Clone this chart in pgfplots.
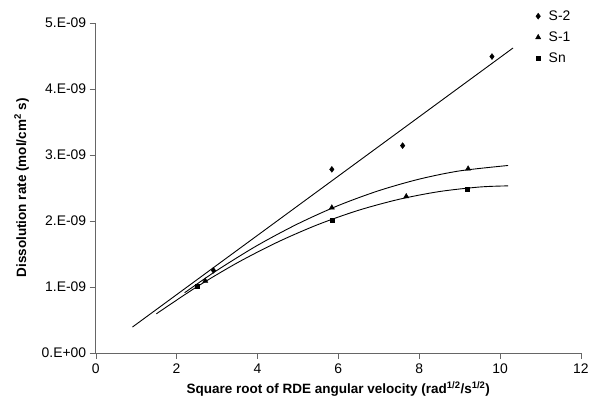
\documentclass[border=0pt]{standalone}
\usepackage{pgfplots}
\pgfplotsset{compat=1.18}
\usepackage{fontspec}
\setmainfont{Liberation Sans}
\begin{document}
\begin{tikzpicture}
\begin{axis}[
  at={(0,0)}, anchor=south west,
  scale only axis, width=487bp, height=331bp,
  xmin=0, xmax=12, ymin=0, ymax=5,
  axis x line=bottom, axis y line=left,
  axis line style={draw=black!60, -},
  xtick={0,2,...,12},
  ytick={0,1,2,3,4,5},
  yticklabels={0.E+00,1.E-09,2.E-09,3.E-09,4.E-09,5.E-09},
  tick align=outside, tick style={draw=black!60, major tick length=6bp},
  ticklabel style={font=\fontsize{14}{16}\selectfont},
  xticklabel style={yshift=-2bp},
  /pgf/number format/assume math mode=true,
  xlabel={\textbf{Square root of RDE angular velocity (rad\textsuperscript{1/2}/s\textsuperscript{1/2})}},
  ylabel={\textbf{Dissolution rate (mol/cm\textsuperscript{2} s)}},
  label style={font=\fontsize{13.6}{15}\selectfont},
  xlabel style={yshift=-1bp},
  ylabel style={yshift=6bp},
  legend style={draw=none, fill=none, at={(0.9,1.05)}, anchor=north west,
    font=\fontsize{14}{16}\selectfont, row sep=6bp,
    /tikz/every odd column/.append style={column sep=6bp}},
  legend cell align=left,
]
\addplot[only marks, mark=diamond*, mark size=3bp, black] coordinates {
  (2.91,1.25) (5.84,2.78) (7.59,3.14) (9.80,4.49)};
\addlegendentry{S-2}
\addplot[only marks, mark=triangle*, mark size=3bp, black] coordinates {
  (2.71,1.09) (5.84,2.20) (7.68,2.37) (9.21,2.79)};
\addlegendentry{S-1}
\addplot[only marks, mark=square*, mark size=2bp, black] coordinates {
  (2.51,1.01) (5.84,2.01) (9.19,2.48)};
\addlegendentry{Sn}
% trend lines
\addplot[black, line width=0.9bp, forget plot] coordinates {(0.91,0.39) (10.32,4.62)};
\addplot[black, line width=0.9bp, smooth, forget plot] coordinates {
  (2.2,0.910) (3,1.249) (4,1.628) (5,1.955) (6,2.232) (7,2.457) (8,2.632) (9,2.757) (10.2,2.839)};
\addplot[black, line width=0.9bp, smooth, forget plot] coordinates {
  (1.5,0.590) (2.5,0.999) (3.5,1.363) (4.5,1.678) (5.5,1.944) (6.5,2.160) (7.5,2.326) (8.5,2.444) (9.5,2.513) (10.2,2.530)};
\end{axis}
\path[use as bounding box] (-96bp,-45bp) rectangle (496bp,354bp);
\end{tikzpicture}
\end{document}
